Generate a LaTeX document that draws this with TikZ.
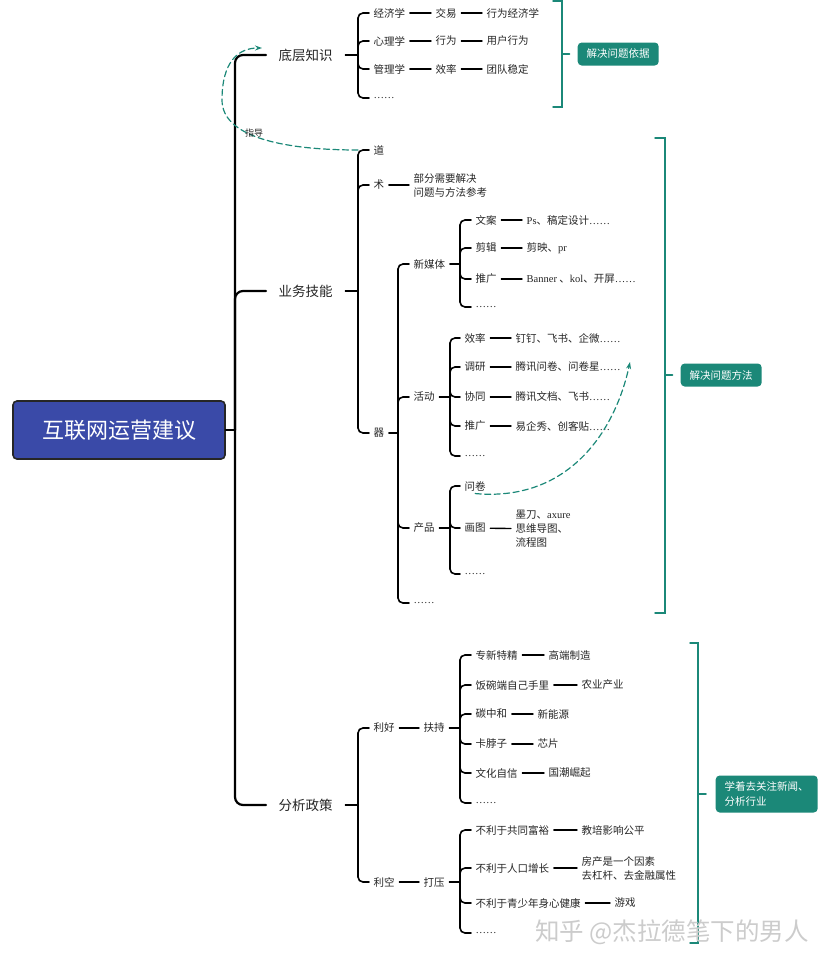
\documentclass[tikz,border=0pt]{standalone}
\usepackage{fontspec}
\setmainfont{Noto Sans CJK SC}
\newfontfamily\lat{Liberation Serif}
\usetikzlibrary{arrows.meta}
\definecolor{rootblue}{HTML}{3A4AA8}
\definecolor{tealc}{HTML}{1B8878}
\newcommand{\dd}{{\lat ……}}

\begin{document}
\begin{tikzpicture}[x=1pt,y=-1pt, line cap=round, line width=1.4pt,
    root/.style={draw=black!85, fill=rootblue, text=white, rounded corners=4pt,
      line width=1.6pt, minimum width=212pt, minimum height=58pt,
      font=\fontsize{22}{24}\selectfont},
    mainitem/.style={anchor=west, inner xsep=12pt, text=black!85,
      font=\fontsize{13.5}{16}\selectfont},
    item/.style={anchor=west, inner xsep=4pt, inner ysep=2pt, align=left,
      text=black!85, font=\fontsize{10.5}{14}\selectfont},
    tag/.style={anchor=west, fill=tealc, text=white, rounded corners=4pt,
      inner xsep=9pt, minimum height=23pt, align=left,
      font=\fontsize{10.5}{15}\selectfont},
    trunk/.style={line width=2.2pt, rounded corners=8pt},
    fork/.style={line width=1.6pt, rounded corners=5pt},
    bracket/.style={draw=tealc, line width=1.5pt},
    guide/.style={draw=tealc, line width=1.2pt, dash pattern=on 6pt off 3.5pt,
      -{Stealth[length=7pt,width=5pt]}}]

  \fill[white] (0,0) rectangle (828,964);
  \useasboundingbox (0,0) rectangle (828,964);

  % root and trunk
  \node[root] (root) at (119,430) {互联网运营建议};
  \coordinate (t) at (235,430);
  \node[mainitem] (base)   at (266,55)  {底层知识};
  \node[mainitem] (skill)  at (266,291) {业务技能};
  \node[mainitem] (policy) at (266,805) {分析政策};
  \draw[trunk] (root.east) -- (t);
  \draw[trunk] (t) |- (base.west);
  \draw[trunk] (t) |- (skill.west);
  \draw[trunk] (t) |- (policy.west);

  % base knowledge
  \coordinate (bb) at (358,55);
  \node[item] (econ)  at (369,13) {经济学};
  \node[item] (psy)   at (369,41) {心理学};
  \node[item] (mgmt)  at (369,69) {管理学};
  \node[item] (bmore) at (369,98) {\dd};
  \node[item] (trade) at (431,13) {交易};
  \node[item] (beco)  at (482,13) {行为经济学};
  \node[item] (act)   at (431,41) {行为};
  \node[item] (user)  at (482,41) {用户行为};
  \node[item] (eff)   at (431,69) {效率};
  \node[item] (team)  at (482,69) {团队稳定};
  \draw[fork] (base.east) -- (bb);
  \foreach \n in {econ,psy,mgmt,bmore} \draw[fork] (bb) |- (\n.west);
  \path (econ) edge (trade) (trade) edge (beco)
        (psy) edge (act) (act) edge (user)
        (mgmt) edge (eff) (eff) edge (team);

  \draw[bracket] (553,0.8) -- (562,0.8) -- (562,107) -- (553,107);
  \node[tag] (basis) at (577,54) {解决问题依据};
  \draw[bracket, shorten >=7.5pt] (562,54) -- (basis.west);

  % skills
  \coordinate (sb) at (358,291);
  \node[item] (dao) at (369,150) {道};
  \node[item] (shu) at (369,185) {术};
  \node[item] (qi)  at (369,433) {器};
  \node[item] (shunote) at (409,185) {部分需要解决\\问题与方法参考};
  \draw[fork] (skill.east) -- (sb);
  \foreach \n in {dao,shu,qi} \draw[fork] (sb) |- (\n.west);
  \path (shu) edge (shunote);

  \coordinate (qb) at (398,433);
  \node[item] (media) at (409,264) {新媒体};
  \node[item] (event) at (409,397) {活动};
  \node[item] (prod)  at (409,528) {产品};
  \node[item] (qmore) at (409,603) {\dd};
  \draw[fork] (qi.east) -- (qb);
  \foreach \n in {media,event,prod,qmore} \draw[fork] (qb) |- (\n.west);

  \coordinate (mb) at (460,264);
  \node[item] (copy)  at (471,220) {文案};
  \node[item] (edit)  at (471,248) {剪辑};
  \node[item] (promo) at (471,279) {推广};
  \node[item] (mmore) at (471,307) {\dd};
  \node[item] (copyt)  at (522,220) {{\lat Ps}、稿定设计\dd};
  \node[item] (editt)  at (522,248) {剪映、{\lat pr}};
  \node[item] (promot) at (522,279) {{\lat Banner} 、{\lat kol}、开屏\dd};
  \draw[fork] (media.east) -- (mb);
  \foreach \n in {copy,edit,promo,mmore} \draw[fork] (mb) |- (\n.west);
  \path (copy) edge (copyt) (edit) edge (editt) (promo) edge (promot);

  \coordinate (eb) at (450,397);
  \node[item] (work)  at (460,338) {效率};
  \node[item] (survey) at (460,367) {调研};
  \node[item] (coop)  at (460,397) {协同};
  \node[item] (spread) at (460,426) {推广};
  \node[item] (emore) at (460,456) {\dd};
  \node[item] (workt)   at (511,338) {钉钉、飞书、企微\dd};
  \node[item] (surveyt) at (511,367) {腾讯问卷、问卷星\dd};
  \node[item] (coopt)   at (511,397) {腾讯文档、飞书\dd};
  \node[item] (spreadt) at (511,426) {易企秀、创客贴\dd};
  \draw[fork] (event.east) -- (eb);
  \foreach \n in {work,survey,coop,spread,emore} \draw[fork] (eb) |- (\n.west);
  \path (work) edge (workt) (survey) edge (surveyt)
        (coop) edge (coopt) (spread) edge (spreadt);

  \coordinate (pdb) at (450,528);
  \node[item] (wj)    at (460,486) {问卷};
  \node[item] (draw)  at (460,528) {画图};
  \node[item] (pmore) at (460,574) {\dd};
  \node[item] (drawt) at (511,529) {墨刀、{\lat axure}\\思维导图、\\流程图};
  \draw[fork] (prod.east) -- (pdb);
  \foreach \n in {wj,draw,pmore} \draw[fork] (pdb) |- (\n.west);
  \path (draw) edge (drawt);

  \draw[bracket] (655,138) -- (665,138) -- (665,613) -- (655,613);
  \node[tag] (method) at (680,375) {解决问题方法};
  \draw[bracket, shorten >=7.5pt] (665,375) -- (method.west);

  % policy
  \coordinate (pb) at (358,805);
  \node[item] (good)    at (369,728) {利好};
  \node[item] (bad)     at (369,882) {利空};
  \node[item] (support) at (419,728) {扶持};
  \node[item] (press)   at (419,882) {打压};
  \draw[fork] (policy.east) -- (pb);
  \foreach \n in {good,bad} \draw[fork] (pb) |- (\n.west);
  \path (good) edge (support) (bad) edge (press);

  \coordinate (gb) at (460,728);
  \node[item] (g1) at (471,655) {专新特精};
  \node[item] (g2) at (471,685) {饭碗端自己手里};
  \node[item] (g3) at (471,714) {碳中和};
  \node[item] (g4) at (471,744) {卡脖子};
  \node[item] (g5) at (471,773) {文化自信};
  \node[item] (g6) at (471,803) {\dd};
  \node[item] (g1t) at (544,655) {高端制造};
  \node[item] (g2t) at (577,685) {农业产业};
  \node[item] (g3t) at (533,714) {新能源};
  \node[item] (g4t) at (533,744) {芯片};
  \node[item] (g5t) at (544,773) {国潮崛起};
  \draw[fork] (support.east) -- (gb);
  \foreach \n in {g1,g2,g3,g4,g5,g6} \draw[fork] (gb) |- (\n.west);
  \path (g1) edge (g1t) (g2) edge (g2t) (g3) edge (g3t)
        (g4) edge (g4t) (g5) edge (g5t);

  \coordinate (xb) at (460,882);
  \node[item] (x1) at (471,830) {不利于共同富裕};
  \node[item] (x2) at (471,868) {不利于人口增长};
  \node[item] (x3) at (471,903) {不利于青少年身心健康};
  \node[item] (x4) at (471,933) {\dd};
  \node[item] (x1t) at (577,830) {教培影响公平};
  \node[item] (x2t) at (577,868) {房产是一个因素\\去杠杆、去金融属性};
  \node[item] (x3t) at (610,903) {游戏};
  \draw[fork] (press.east) -- (xb);
  \foreach \n in {x1,x2,x3,x4} \draw[fork] (xb) |- (\n.west);
  \path (x1) edge (x1t) (x2) edge (x2t) (x3) edge (x3t);

  \draw[bracket] (690,643) -- (698,643) -- (698,943) -- (690,943);
  \node[tag, minimum height=37pt] (news) at (715,794) {学着去关注新闻、\\分析行业};
  \draw[bracket, shorten >=9pt] (698,794) -- (news.west);

  % dashed hints
  \coordinate (hint) at (262,48);
  \draw[guide] ([xshift=-11pt]dao.west) .. controls (280,150) and (222,136) .. (222,100)
    .. controls (222,62) and (238,48) .. (hint);
  \node[text=black!85, font=\fontsize{9}{10}\selectfont] (guidelbl) at (254,133) {指导};
  \coordinate (tool) at (630,362);
  \draw[guide] (wj.south) .. controls (568,502) and (615,432) .. (tool);

  % watermark
  \node[anchor=west, text=gray!40, font=\fontsize{24.5}{26}\selectfont] (mark) at (531,932) {知乎 @杰拉德笔下的男人};

\end{tikzpicture}
\end{document}
